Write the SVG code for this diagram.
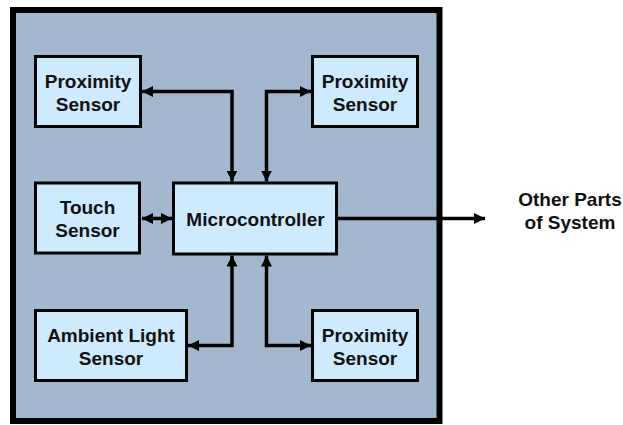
<svg xmlns="http://www.w3.org/2000/svg" width="623" height="425" viewBox="0 0 623 425">
<style>
.box{fill:#cdeafe;stroke:#000;stroke-width:3}
.t{font-family:"Liberation Sans",Arial,sans-serif;font-weight:bold;font-size:19px;fill:#111;text-anchor:middle}
.c{fill:none;stroke:#000;stroke-width:3.5}
</style>
<defs>
<marker id="ah" viewBox="0 0 10 10" refX="10" refY="5" markerWidth="11" markerHeight="11" markerUnits="userSpaceOnUse" orient="auto-start-reverse">
<path d="M0,0 L10,5 L0,10 Z" fill="#000"/>
</marker>
</defs>
<rect width="623" height="425" fill="#fff"/>
<g id="frame"><rect x="13" y="10" width="426.5" height="411" fill="#a3b8cf" stroke="#000" stroke-width="6"/></g>
<g id="connectors">
<path class="c" d="M142,91.5 H232 V181.5" marker-start="url(#ah)" marker-end="url(#ah)"/>
<path class="c" d="M266.5,181.5 V91.5 H311" marker-start="url(#ah)" marker-end="url(#ah)"/>
<path class="c" d="M142,218.5 H172" marker-start="url(#ah)" marker-end="url(#ah)"/>
<path class="c" d="M232,255.5 V345.5 H188" marker-start="url(#ah)" marker-end="url(#ah)"/>
<path class="c" d="M266.5,255.5 V345.5 H311" marker-start="url(#ah)" marker-end="url(#ah)"/>
<path class="c" d="M338,218.5 H485" marker-end="url(#ah)"/>
</g>
<g id="prox1"><rect class="box" x="35.5" y="56.5" width="105" height="70"/><text class="t" x="88" y="87.5">Proximity</text><text class="t" x="88" y="110.5">Sensor</text></g>
<g id="prox2"><rect class="box" x="312.5" y="56.5" width="105" height="70"/><text class="t" x="365" y="87.5">Proximity</text><text class="t" x="365" y="110.5">Sensor</text></g>
<g id="touch"><rect class="box" x="35.5" y="183" width="104" height="70"/><text class="t" x="87.5" y="214">Touch</text><text class="t" x="87.5" y="237">Sensor</text></g>
<g id="mcu"><rect class="box" x="173.5" y="183" width="163" height="71"/><text class="t" x="255.5" y="226">Microcontroller</text></g>
<g id="ambient"><rect class="box" x="35.5" y="310.5" width="151" height="70"/><text class="t" x="111" y="342">Ambient Light</text><text class="t" x="111" y="365">Sensor</text></g>
<g id="prox3"><rect class="box" x="312.5" y="310.5" width="105" height="70"/><text class="t" x="365" y="342">Proximity</text><text class="t" x="365" y="365">Sensor</text></g>
<g id="other"><text class="t" x="570" y="205.5">Other Parts</text><text class="t" x="570" y="228.5">of System</text></g>
</svg>
